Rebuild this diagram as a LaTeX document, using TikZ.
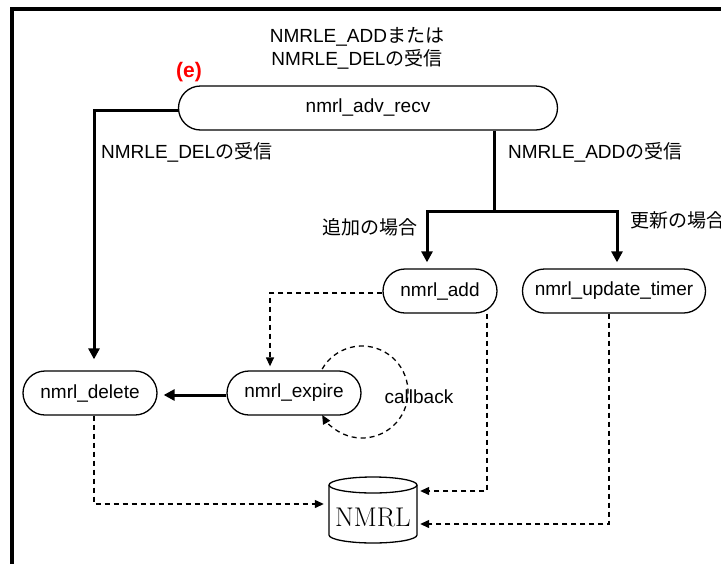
\documentclass[tikz,border=0pt]{standalone}
\usepackage{fontspec}
\setsansfont{Liberation Sans}
\newfontfamily\jpfont{Noto Sans CJK JP}
\usetikzlibrary{arrows.meta,shapes.misc}

\tikzset{
  proc/.style={rounded rectangle, draw, line width=1.3pt, minimum height=44pt,
    inner sep=0pt, font=\sffamily\fontsize{19}{23}\selectfont},
  lbl/.style={inner sep=0pt, font=\sffamily\fontsize{19}{23}\selectfont},
  flow/.style={line width=3pt, -{Triangle[length=11pt,width=11pt]}},
  data/.style={line width=1.3pt, dash pattern=on 5pt off 4pt,
    -{Triangle[length=9pt,width=8pt]}},
}

\begin{document}
\begin{tikzpicture}[x=1pt,y=1pt]
\useasboundingbox (0,0) rectangle (721,-563);

% outer frame
\draw[line width=3.5pt] (12,-600) -- (12,-9) -- (760,-9);

% processes
\node[proc, minimum width=379pt] (adv) at (368,-108) {nmrl\_adv\_recv};
\node[proc, minimum width=114pt] (add) at (440,-291) {nmrl\_add};
\node[proc, minimum width=183pt] (upd) at (614,-291) {nmrl\_update\_timer};
\node[proc, minimum width=134pt] (del) at (90,-393) {nmrl\_delete};
\node[proc, minimum width=134pt] (exp) at (294,-393) {nmrl\_expire};

% database
\node[minimum width=88pt, minimum height=66pt, inner sep=0pt] (db) at (373,-510) {};
\draw[line width=1.3pt] (329,-485) -- (329,-535)
  arc[start angle=180, end angle=360, x radius=44pt, y radius=8pt]
  -- (417,-485);
\draw[line width=1.3pt] (373,-485) ellipse[x radius=44pt, y radius=8pt];
\node[inner sep=0pt, font=\rmfamily\fontsize{27}{30}\selectfont] at (373,-517) {NMRL};

% labels
\node[lbl, align=center] (top) at (357,-48)
  {NMRLE\_ADD{\jpfont または}\\NMRLE\_DEL{\jpfont の受信}};
\node[lbl, text=red, font=\sffamily\bfseries\fontsize{21}{25}\selectfont] (tag) at (189,-72) {(e)};
\node[lbl, anchor=west] (ldel) at (101,-152) {NMRLE\_DEL{\jpfont の受信}};
\node[lbl, anchor=west] (ladd) at (508,-152) {NMRLE\_ADD{\jpfont の受信}};
\node[lbl, anchor=east] (lnew) at (418,-227) {\jpfont 追加の場合};
\node[lbl, anchor=west] (lupd) at (630,-220) {\jpfont 更新の場合};
\node[lbl] (lcb) at (419,-397) {callback};

% control flow
\draw[flow] ([yshift=-2pt]adv.west) -| ([xshift=4pt,yshift=11pt]del.north);
\coordinate (br) at (494,-211);
\draw[line width=3pt] (adv.south -| br) -- (br);
\draw[flow] (br) -| ([xshift=-13pt,yshift=6pt]add.north);
\draw[flow] (br) -| ([xshift=3pt,yshift=6pt]upd.north);
\draw[flow] ([yshift=-2pt]exp.west) -- ([xshift=6pt,yshift=-2pt]del.east);

% timer and data access
\draw[data] ([yshift=-2pt]add.west) -| ([xshift=-24pt,yshift=4pt]exp.north);
\coordinate (cb) at (362,-392);
\draw[data] ([shift={(150:46pt)}]cb)
  arc[start angle=150, end angle=-150, radius=46pt];
\draw[data] ([xshift=47pt]add.south) |- ([xshift=3pt,yshift=19pt]db.east);
\draw[data] ([xshift=-5pt]upd.south) |- ([xshift=3pt,yshift=-14pt]db.east);
\draw[data] ([xshift=4pt]del.south) |- ([xshift=-5pt,yshift=6pt]db.west);
\end{tikzpicture}
\end{document}
